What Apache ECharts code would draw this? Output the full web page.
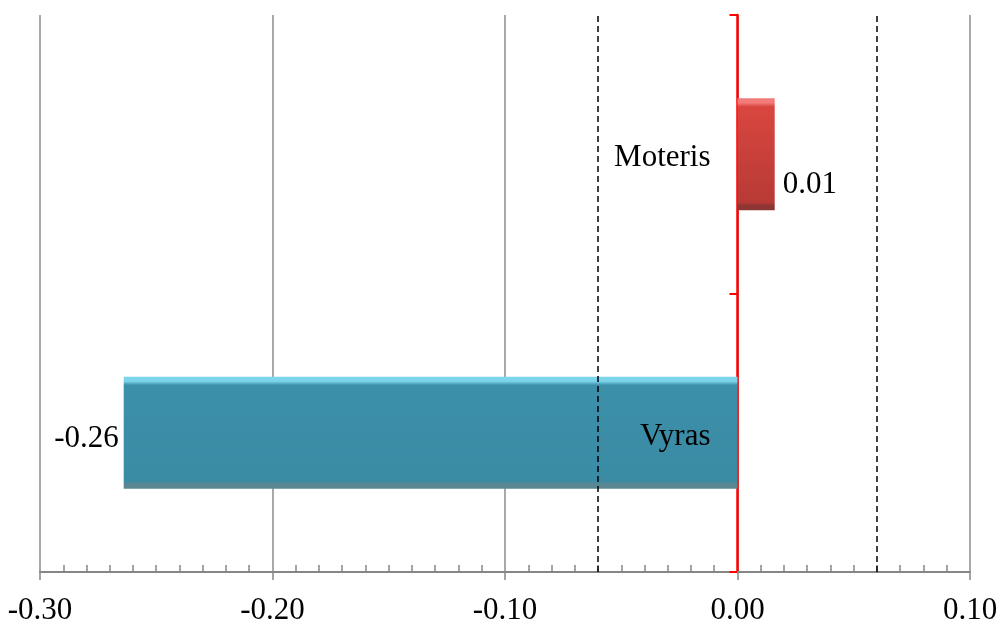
<!DOCTYPE html>
<html>
<head>
<meta charset="utf-8">
<script src="https://cdn.jsdelivr.net/npm/echarts@6/dist/echarts.min.js"></script>
<style>html,body{margin:0;padding:0;background:#fff}#c{width:1001px;height:623px}</style>
</head>
<body>
<div id="c"></div>
<script>
const categories = ['Vyras', 'Moteris'];
const values = [-0.264, 0.016];
const valueLabels = ['-0.26', '0.01'];
const refLines = [-0.06, 0.06];
const xMin = -0.3, xMax = 0.1, xStep = 0.1;

const FONT = 'Liberation Serif';
function grad(light, main, mainEnd, dark) {
  return new echarts.graphic.LinearGradient(0, 0, 0, 1, [
    {offset: 0, color: light}, {offset: 0.04, color: light},
    {offset: 0.075, color: main}, {offset: 0.93, color: mainEnd},
    {offset: 0.96, color: dark}, {offset: 1, color: dark}
  ]);
}
const styles = [
  {color: grad('#7dd5ec', '#3d90aa', '#3a8ba4', '#5b8792')},
  {color: grad('#f27c7a', '#d9463f', '#b83a36', '#8c3533')}
];
const labelCfg = [
  {position: 'left', distance: 5, offset: [0, 6]},
  {position: 'right', distance: 8, offset: [0, 31]}
];

const chart = echarts.init(document.getElementById('c'));
chart.setOption({
  animation: false,
  grid: {left: 40, right: 31, top: 15, bottom: 51, containLabel: false, outerBoundsMode: 'none'},
  xAxis: [{
    type: 'value', min: xMin, max: xMax, interval: xStep, position: 'bottom',
    axisLine: {show: true, onZero: false, lineStyle: {color: '#868686', width: 2}},
    axisTick: {show: true, inside: false, length: 8, lineStyle: {color: '#868686', width: 1.5}},
    splitLine: {show: true, lineStyle: {color: '#8c8c8c', width: 1.5}},
    axisLabel: {color: '#000', fontFamily: FONT, fontSize: 31, margin: 23,
      formatter: v => v.toFixed(2)}
  }, {
    type: 'value', min: xMin, max: xMax, interval: xStep, position: 'bottom',
    axisLine: {show: false, onZero: false},
    axisTick: {show: false, inside: true, length: 7},
    minorTick: {show: true, splitNumber: 10, length: 7, lineStyle: {color: '#868686', width: 1.5}},
    splitLine: {show: false}, axisLabel: {show: false}
  }],
  yAxis: {
    type: 'category', data: categories,
    axisLine: {show: true, onZero: true, lineStyle: {color: '#ff0000', width: 2.5}},
    axisTick: {show: true, length: 8, lineStyle: {color: '#ff0000', width: 2}},
    axisLabel: {show: false},
    splitLine: {show: false}
  },
  series: [{
    type: 'bar', barWidth: 112, xAxisIndex: 0,
    data: values.map((v, i) => ({
      value: v, itemStyle: styles[i],
      label: Object.assign({show: true, color: '#000', fontFamily: FONT, fontSize: 31,
        formatter: () => valueLabels[i]}, labelCfg[i])
    })),
    markLine: {
      silent: true, symbol: ['none', 'none'], label: {show: false},
      lineStyle: {color: '#000', width: 1.5, type: [6, 4]},
      data: refLines.map(v => ({xAxis: v}))
    },
    z: 3
  }, {
    type: 'scatter', xAxisIndex: 0, symbolSize: 0, silent: true, z: 5,
    itemStyle: {opacity: 1},
    data: categories.map(c => [0, c]),
    label: {show: true, position: 'left', distance: 27, offset: [0, 4], color: '#000', opacity: 1,
      fontFamily: FONT, fontSize: 31, formatter: p => p.value[1]}
  }]
});
</script>
</body>
</html>
